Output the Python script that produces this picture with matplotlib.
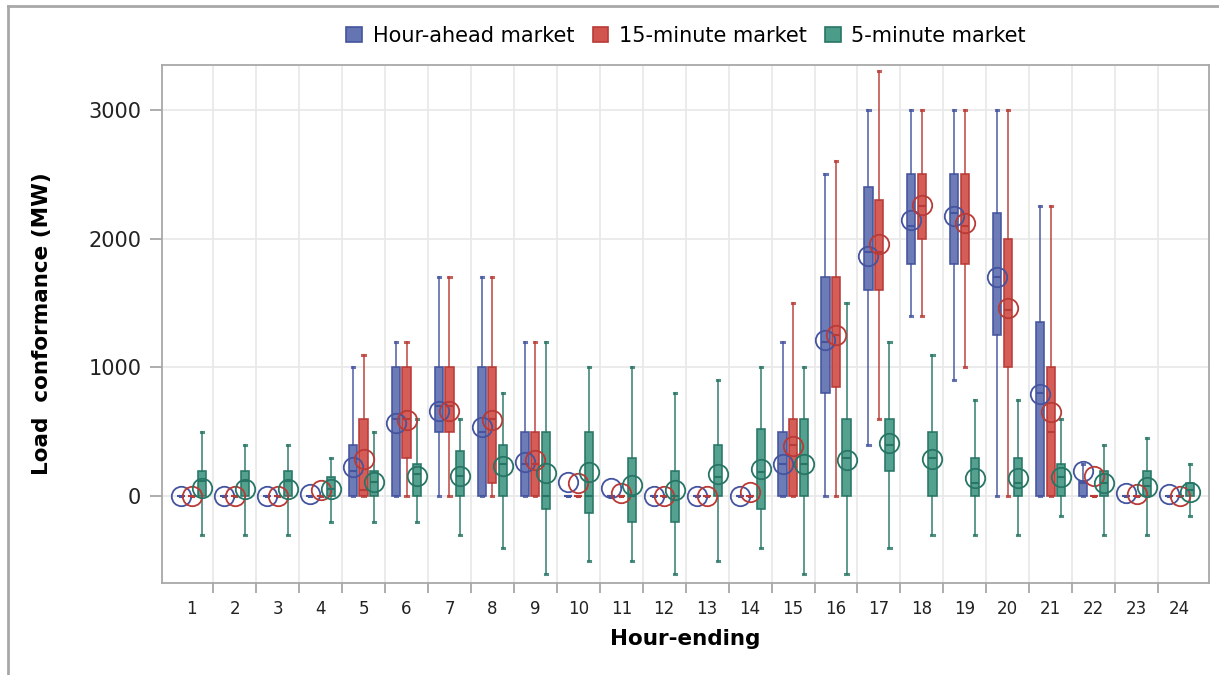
import numpy as np
import matplotlib.pyplot as plt
from matplotlib.patches import Patch
from matplotlib.lines import Line2D

# hours on the x axis
hours = list(range(1, 25))

# Hour-ahead market
ha_lo = [0, 0, 0, 0, 0, 0, 0, 0, 0, 0, 0, 0, 0, 0, 0, 0, 400, 1400, 900, 0, 0, 0, 0, 0]
ha_q1 = [0, 0, 0, 0, 0, 0, 500, 0, 0, 0, 0, 0, 0, 0, 0, 800, 1600, 1800, 1800, 1250, 0, 0, 0, 0]
ha_med = [0, 0, 0, 0, 200, 600, 700, 500, 250, 0, 0, 0, 0, 0, 250, 1200, 1900, 2100, 2200, 1700, 800, 100, 0, 0]
ha_q3 = [0, 0, 0, 0, 400, 1000, 1000, 1000, 500, 0, 0, 0, 0, 0, 500, 1700, 2400, 2500, 2500, 2200, 1350, 120, 0, 0]
ha_hi = [0, 0, 0, 0, 1000, 1200, 1700, 1700, 1200, 0, 0, 0, 0, 0, 1200, 2500, 3000, 3000, 3000, 3000, 2250, 250, 0, 0]
ha_mean = [0, 0, 0, 15, 230, 570, 660, 540, 265, 110, 65, 0, 0, 0, 254, 1210, 1865, 2145, 2175, 1700, 795, 200, 25, 20]

# 15-minute market
fm_lo = [0, 0, 0, 0, 0, 0, 0, 0, 0, 0, 0, 0, 0, 0, 0, 0, 600, 1400, 1000, 0, 0, 0, 0, 0]
fm_q1 = [0, 0, 0, 0, 0, 300, 500, 100, 0, 0, 0, 0, 0, 0, 0, 850, 1600, 2000, 1800, 1000, 0, 0, 0, 0]
fm_med = [0, 0, 0, 0, 50, 600, 700, 600, 250, 0, 0, 0, 0, 0, 400, 1250, 1900, 2250, 2100, 1450, 500, 0, 0, 0]
fm_q3 = [0, 0, 0, 0, 600, 1000, 1000, 1000, 500, 0, 0, 0, 0, 0, 600, 1700, 2300, 2500, 2500, 2000, 1000, 0, 0, 0]
fm_hi = [0, 0, 0, 0, 1100, 1200, 1700, 1700, 1200, 0, 0, 0, 0, 0, 1500, 2600, 3300, 3000, 3000, 3000, 2250, 0, 0, 0]
fm_mean = [0, 0, 0, 45, 290, 590, 665, 595, 280, 105, 25, 0, 0, 30, 388, 1255, 1955, 2260, 2125, 1465, 655, 160, 20, 0]

# 5-minute market
m5_lo = [-300, -300, -300, -200, -200, -200, -300, -400, -600, -500, -500, -600, -500, -400, -600, -600, -400, -300, -300, -300, -150, -300, -300, -150]
m5_q1 = [0, 0, 0, 0, 0, 0, 0, 0, -100, -130, -200, -200, 0, -100, 0, 0, 200, 0, 0, 0, 0, 0, 0, 0]
m5_med = [120, 120, 120, 60, 110, 170, 160, 250, 0, 0, 0, 0, 150, 190, 250, 300, 400, 300, 100, 100, 150, 100, 80, 50]
m5_q3 = [200, 200, 200, 150, 200, 250, 350, 400, 500, 500, 300, 200, 400, 525, 600, 600, 600, 500, 300, 300, 250, 200, 200, 100]
m5_hi = [500, 400, 400, 300, 500, 600, 600, 800, 1200, 1000, 1000, 800, 900, 1000, 1000, 1500, 1200, 1100, 750, 750, 600, 400, 450, 250]
m5_mean = [65, 60, 55, 60, 110, 155, 160, 235, 180, 190, 85, 45, 170, 215, 254, 280, 410, 293, 142, 142, 150, 100, 75, 35]

labels = ['Hour-ahead market', '15-minute market', '5-minute market']
fills = ['#6574b3', '#d2544f', '#4c9c8a']
edges = ['#44549e', '#b93a36', '#277565']


def stats(lo, q1, med, q3, hi, mean):
    return [dict(whislo=a, q1=b, med=c, q3=d, whishi=e, mean=f, fliers=[])
            for a, b, c, d, e, f in zip(lo, q1, med, q3, hi, mean)]


def main():
    fig = plt.figure(figsize=(12.19, 6.75), dpi=100)
    ax = fig.add_axes([0.133, 0.136, 0.859, 0.768])

    series = [stats(ha_lo, ha_q1, ha_med, ha_q3, ha_hi, ha_mean),
              stats(fm_lo, fm_q1, fm_med, fm_q3, fm_hi, fm_mean),
              stats(m5_lo, m5_q1, m5_med, m5_q3, m5_hi, m5_mean)]
    offsets = [-0.245, 0.0, 0.245]

    for st, off, fc, ec in zip(series, offsets, fills, edges):
        pos = np.array(hours) + off
        ax.bxp(st, positions=pos, widths=0.19, patch_artist=True,
               showmeans=True, showfliers=False, capwidths=0.05,
               boxprops=dict(facecolor=fc, edgecolor=ec, linewidth=1.2, alpha=0.95),
               whiskerprops=dict(color=ec, linewidth=1.3, alpha=0.8),
               capprops=dict(color=ec, linewidth=2.2, alpha=0.8),
               medianprops=dict(color=ec, linewidth=1.5),
               meanprops=dict(marker='o', markerfacecolor='none', markeredgecolor=ec,
                              markersize=14, markeredgewidth=1.3),
               zorder=3)

    ax.set_xlim(0.31, 24.69)
    ax.set_ylim(-675, 3350)
    ax.set_xticks(hours)
    ax.set_xticklabels([str(h) for h in hours])
    ax.set_xticks(np.arange(1.5, 24.5, 1.0), minor=True)
    ax.set_yticks([0, 1000, 2000, 3000])
    ax.tick_params(axis='x', which='major', length=0, labelsize=12, pad=12, labelcolor='#222222')
    ax.tick_params(axis='x', which='minor', length=7, color='#a0a0a0', width=1.2)
    ax.tick_params(axis='y', length=9, color='#a0a0a0', width=1.2, labelsize=15, pad=6, labelcolor='#222222')

    ax.grid(True, axis='y', which='major', color='#e8e8e8', linewidth=1.2, zorder=0)
    ax.grid(True, axis='x', which='minor', color='#e8e8e8', linewidth=1.2, zorder=0)
    ax.set_axisbelow(True)
    for s in ax.spines.values():
        s.set_color('#a8a8a8')
        s.set_linewidth(1.3)

    ax.set_xlabel('Hour-ending', fontsize=15.5, fontweight='bold', labelpad=8)
    ax.set_ylabel('Load  conformance (MW)', fontsize=15.5, fontweight='bold', labelpad=26)

    handles = [Patch(facecolor=f, edgecolor=e, linewidth=1.2) for f, e in zip(fills, edges)]
    fig.legend(handles, labels, loc='center', bbox_to_anchor=(0.563, 0.947), ncol=3,
               frameon=False, fontsize=15, handlelength=0.75, handleheight=0.75,
               handletextpad=0.5, columnspacing=0.9)

    # outer frame
    fig.add_artist(Line2D([8 / 1219, 8 / 1219], [0, 1 - 6 / 675], transform=fig.transFigure,
                          color='#a8a8a8', linewidth=2))
    fig.add_artist(Line2D([8 / 1219, 1], [1 - 6 / 675, 1 - 6 / 675], transform=fig.transFigure,
                          color='#a8a8a8', linewidth=2))

    plt.savefig('out.png', dpi=100)


if __name__ == "__main__":
    main()
